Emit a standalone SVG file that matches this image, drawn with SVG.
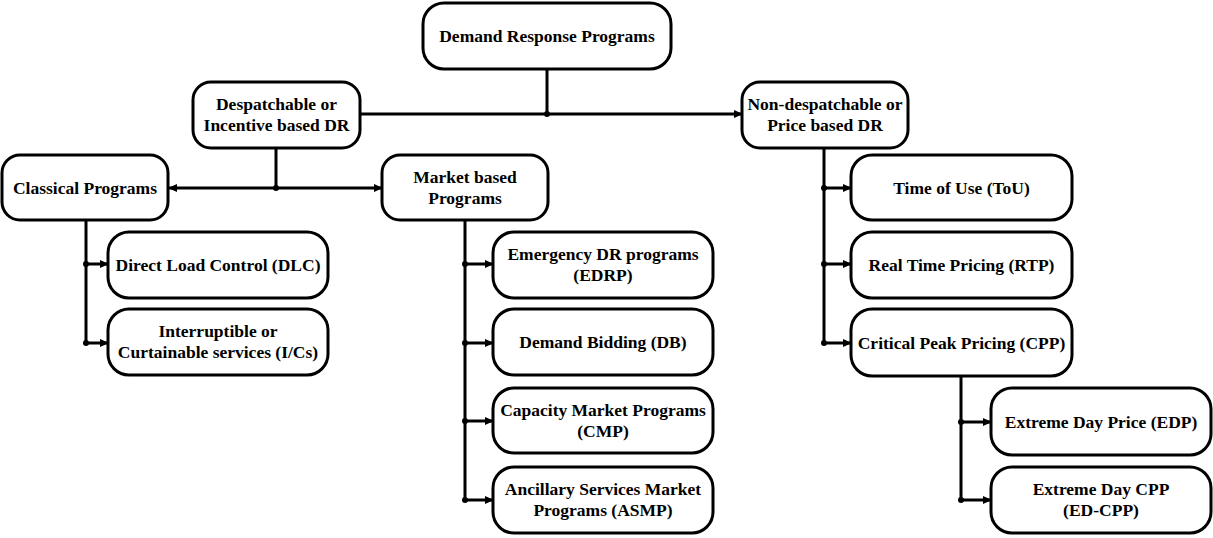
<svg xmlns="http://www.w3.org/2000/svg" width="1213" height="538" viewBox="0 0 1213 538">
  <style>
    .box { fill: #ffffff; stroke: #000000; stroke-width: 3; }
    .lbl { font-family: "Liberation Serif", "Times New Roman", serif; font-weight: bold; font-size: 17.5px; fill: #000000; text-anchor: middle; }
    .wire { fill: none; stroke: #000000; stroke-width: 3; }
    .dot { fill: #000000; }
  </style>
  <defs>
    <marker id="arrow" markerUnits="userSpaceOnUse" markerWidth="9" markerHeight="8" refX="8" refY="4" orient="auto-start-reverse">
      <path d="M0,0 L9,4 L0,8 z" fill="#000000"/>
    </marker>
  </defs>
  <rect width="1213" height="538" fill="#ffffff"/>

  <!-- connectors -->
  <g id="connectors">
    <!-- root to the two main categories -->
    <line class="wire" x1="547" y1="69" x2="547" y2="114"/>
    <line class="wire" x1="360" y1="114" x2="742" y2="114" marker-end="url(#arrow)"/>
    <circle class="dot" cx="547" cy="114" r="3"/>

    <!-- despatchable split -->
    <line class="wire" x1="276" y1="148" x2="276" y2="188"/>
    <line class="wire" x1="169" y1="188" x2="382" y2="188" marker-start="url(#arrow)" marker-end="url(#arrow)"/>
    <circle class="dot" cx="276" cy="188" r="3"/>

    <!-- classical programs branches -->
    <line class="wire" x1="86" y1="220" x2="86" y2="343"/>
    <line class="wire" x1="86" y1="264" x2="108" y2="264" marker-end="url(#arrow)"/>
    <line class="wire" x1="86" y1="343" x2="108" y2="343" marker-end="url(#arrow)"/>
    <circle class="dot" cx="86" cy="264" r="3"/>
    <circle class="dot" cx="86" cy="343" r="3"/>

    <!-- market based branches -->
    <line class="wire" x1="465" y1="220" x2="465" y2="500"/>
    <line class="wire" x1="465" y1="264" x2="493" y2="264" marker-end="url(#arrow)"/>
    <line class="wire" x1="465" y1="343" x2="493" y2="343" marker-end="url(#arrow)"/>
    <line class="wire" x1="465" y1="421" x2="493" y2="421" marker-end="url(#arrow)"/>
    <line class="wire" x1="465" y1="500" x2="493" y2="500" marker-end="url(#arrow)"/>
    <circle class="dot" cx="465" cy="264" r="3"/>
    <circle class="dot" cx="465" cy="343" r="3"/>
    <circle class="dot" cx="465" cy="421" r="3"/>
    <circle class="dot" cx="465" cy="500" r="3"/>

    <!-- price based branches -->
    <line class="wire" x1="824" y1="148" x2="824" y2="343"/>
    <line class="wire" x1="824" y1="188" x2="851" y2="188" marker-end="url(#arrow)"/>
    <line class="wire" x1="824" y1="264" x2="851" y2="264" marker-end="url(#arrow)"/>
    <line class="wire" x1="824" y1="343" x2="851" y2="343" marker-end="url(#arrow)"/>
    <circle class="dot" cx="824" cy="188" r="3"/>
    <circle class="dot" cx="824" cy="264" r="3"/>
    <circle class="dot" cx="824" cy="343" r="3"/>

    <!-- critical peak pricing branches -->
    <line class="wire" x1="961" y1="376" x2="961" y2="500"/>
    <line class="wire" x1="961" y1="422" x2="991" y2="422" marker-end="url(#arrow)"/>
    <line class="wire" x1="961" y1="500" x2="991" y2="500" marker-end="url(#arrow)"/>
    <circle class="dot" cx="961" cy="422" r="3"/>
    <circle class="dot" cx="961" cy="500" r="3"/>
  </g>

  <!-- nodes -->
  <g id="node-root">
    <rect class="box" x="423" y="3" width="248" height="66" rx="21"/>
    <text class="lbl" x="547" y="42">Demand Response Programs</text>
  </g>
  <g id="node-despatchable">
    <rect class="box" x="193" y="82" width="167" height="66" rx="18"/>
    <text class="lbl" x="276.5" y="110">Despatchable or</text>
    <text class="lbl" x="276.5" y="131">Incentive based DR</text>
  </g>
  <g id="node-nondespatchable">
    <rect class="box" x="742" y="82" width="166" height="66" rx="18"/>
    <text class="lbl" x="825" y="110">Non-despatchable or</text>
    <text class="lbl" x="825" y="131">Price based DR</text>
  </g>
  <g id="node-classical">
    <rect class="box" x="2" y="155" width="166" height="65" rx="18"/>
    <text class="lbl" x="85" y="194">Classical Programs</text>
  </g>
  <g id="node-market">
    <rect class="box" x="382" y="155" width="166" height="65" rx="18"/>
    <text class="lbl" x="465" y="183">Market based</text>
    <text class="lbl" x="465" y="204">Programs</text>
  </g>
  <g id="node-dlc">
    <rect class="box" x="108" y="232" width="220" height="66" rx="21"/>
    <text class="lbl" x="218" y="271">Direct Load Control (DLC)</text>
  </g>
  <g id="node-ics">
    <rect class="box" x="108" y="309" width="220" height="66" rx="21"/>
    <text class="lbl" x="218" y="337">Interruptible or</text>
    <text class="lbl" x="218" y="358">Curtainable services (I/Cs)</text>
  </g>
  <g id="node-edrp">
    <rect class="box" x="493" y="232" width="220" height="66" rx="21"/>
    <text class="lbl" x="603" y="260">Emergency DR programs</text>
    <text class="lbl" x="603" y="281">(EDRP)</text>
  </g>
  <g id="node-db">
    <rect class="box" x="493" y="309" width="220" height="66" rx="21"/>
    <text class="lbl" x="603" y="348">Demand Bidding (DB)</text>
  </g>
  <g id="node-cmp">
    <rect class="box" x="493" y="388" width="220" height="65" rx="21"/>
    <text class="lbl" x="603" y="416">Capacity Market Programs</text>
    <text class="lbl" x="603" y="437">(CMP)</text>
  </g>
  <g id="node-asmp">
    <rect class="box" x="493" y="467" width="220" height="66" rx="21"/>
    <text class="lbl" x="603" y="495">Ancillary Services Market</text>
    <text class="lbl" x="603" y="516">Programs (ASMP)</text>
  </g>
  <g id="node-tou">
    <rect class="box" x="851" y="155" width="221" height="65" rx="21"/>
    <text class="lbl" x="961.5" y="194">Time of Use (ToU)</text>
  </g>
  <g id="node-rtp">
    <rect class="box" x="851" y="232" width="221" height="66" rx="21"/>
    <text class="lbl" x="961.5" y="271">Real Time Pricing (RTP)</text>
  </g>
  <g id="node-cpp">
    <rect class="box" x="851" y="309" width="221" height="67" rx="21"/>
    <text class="lbl" x="961.5" y="349">Critical Peak Pricing (CPP)</text>
  </g>
  <g id="node-edp">
    <rect class="box" x="991" y="388" width="220" height="67" rx="21"/>
    <text class="lbl" x="1101" y="428">Extreme Day Price (EDP)</text>
  </g>
  <g id="node-edcpp">
    <rect class="box" x="991" y="467" width="220" height="66" rx="21"/>
    <text class="lbl" x="1101" y="495">Extreme Day CPP</text>
    <text class="lbl" x="1101" y="516">(ED-CPP)</text>
  </g>
</svg>
